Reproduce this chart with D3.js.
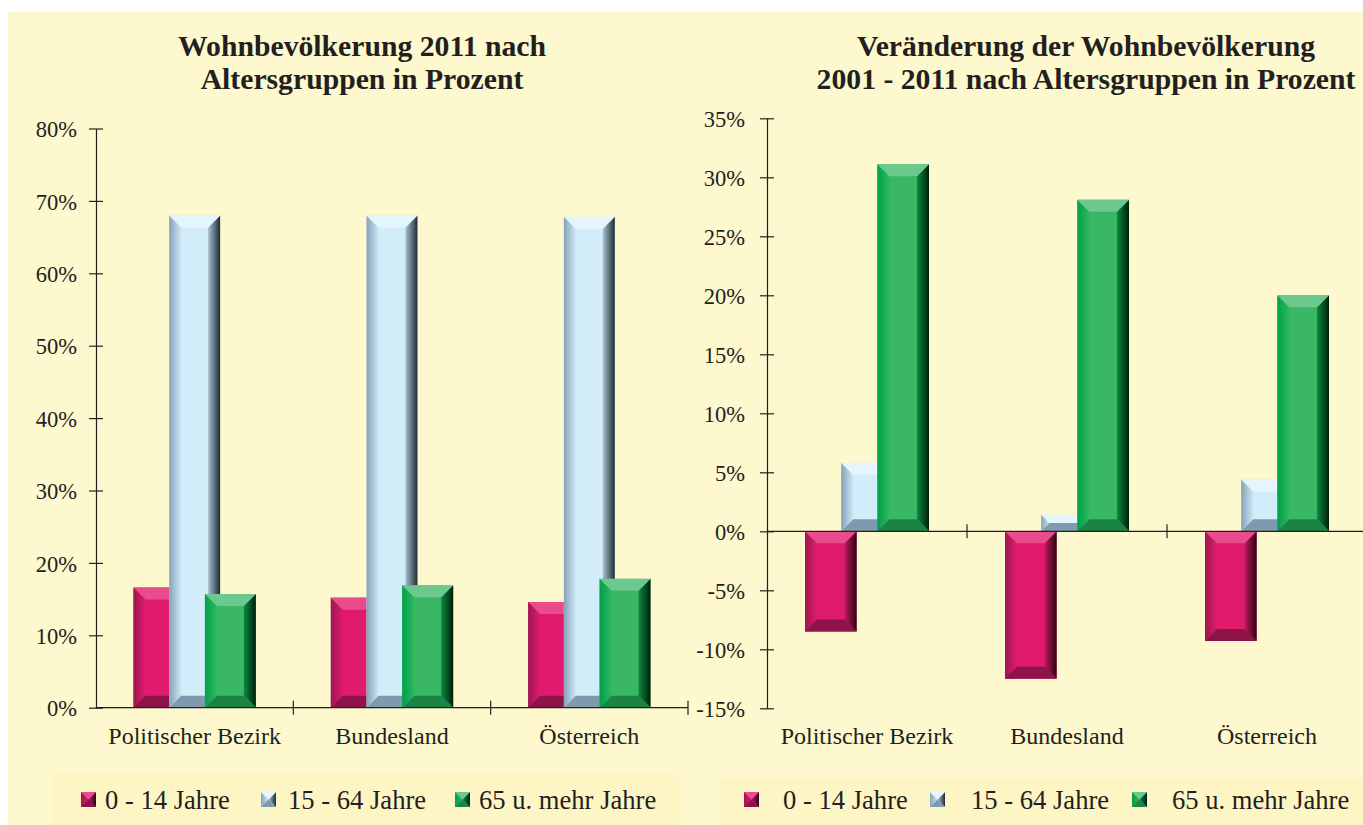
<!DOCTYPE html>
<html><head><meta charset="utf-8">
<script src="https://cdn.jsdelivr.net/npm/d3@7"></script>
<style>
html,body{margin:0;padding:0;background:#fff;}
svg{display:block;}
text{font-family:"Liberation Serif","Times New Roman",serif;fill:#231F20;}
</style></head><body>
<svg id="chart" width="1363" height="825"></svg>
<script>
// ---- data ----
const categories = ["Politischer Bezirk", "Bundesland", "Österreich"];
const seriesNames = ["0 - 14 Jahre", "15 - 64 Jahre", "65 u. mehr Jahre"];
// Wohnbevölkerung 2011 nach Altersgruppen (%)
const share0_14  = [16.6, 15.2, 14.6];
const share15_64 = [68.0, 68.0, 67.8];
const share65    = [15.7, 16.9, 17.8];
// Veränderung 2001-2011 (%)
const change0_14  = [-8.5, -12.5, -9.3];
const change15_64 = [5.8, 1.4, 4.4];
const change65    = [31.1, 28.1, 20.0];
const leftTicks  = [0, 10, 20, 30, 40, 50, 60, 70, 80];
const rightTicks = [-15, -10, -5, 0, 5, 10, 15, 20, 25, 30, 35];
const titleLeft  = ["Wohnbevölkerung 2011 nach", "Altersgruppen in Prozent"];
const titleRight = ["Veränderung der Wohnbevölkerung", "2001 - 2011 nach Altersgruppen in Prozent"];

// ---- styles ----
const palettes = [
  {base:"#E01B6E", top:"#EA4B8C", bottom:"#8E1447", l0:"#9C1650", l1:"#E01B6E", r0:"#C0185E", r1:"#2A0614"},
  {base:"#D3ECFA", top:"#E4F5FD", bottom:"#7F9AAE", l0:"#86A3B7", l1:"#CDE7F6", r0:"#A8C2D2", r1:"#1F2A32"},
  {base:"#3AB764", top:"#6CC98D", bottom:"#1B8445", l0:"#00A04A", l1:"#2EB85E", r0:"#0C8A3E", r1:"#00200D"}
];
const svg = d3.select("#chart");
const defs = svg.append("defs");
palettes.forEach((p,i)=>{
  const gl = defs.append("linearGradient").attr("id","gl"+i).attr("x1","0").attr("x2","1").attr("y1","0").attr("y2","0");
  gl.append("stop").attr("offset","0").attr("stop-color",p.l0);
  gl.append("stop").attr("offset","1").attr("stop-color",p.l1);
  const gr = defs.append("linearGradient").attr("id","gr"+i).attr("x1","0").attr("x2","1").attr("y1","0").attr("y2","0");
  gr.append("stop").attr("offset","0").attr("stop-color",p.r0);
  gr.append("stop").attr("offset","1").attr("stop-color",p.r1);
});

svg.append("rect").attr("x",8).attr("y",12).attr("width",1363-8).attr("height",825-12).attr("fill","#FDF8CE");
svg.append("rect").attr("x",51).attr("y",774).attr("width",628).attr("height",60).attr("fill","#FDF5C4");
svg.append("rect").attr("x",720).attr("y",778).attr("width",650).attr("height",60).attr("fill","#FDF5C4");

function bevel(g, x, y, w, h, si, bmax){
  const p = palettes[si];
  const b = Math.min(bmax, h/2, w/2);
  const gg = g.append("g");
  gg.append("rect").attr("x",x).attr("y",y).attr("width",w).attr("height",h).attr("fill",p.base);
  const poly = (pts, fill) => gg.append("polygon").attr("points", pts.map(q=>q.join(",")).join(" ")).attr("fill",fill);
  poly([[x,y],[x+b,y+b],[x+b,y+h-b],[x,y+h]], `url(#gl${si})`);
  poly([[x+w,y],[x+w-b,y+b],[x+w-b,y+h-b],[x+w,y+h]], `url(#gr${si})`);
  poly([[x,y],[x+w,y],[x+w-b,y+b],[x+b,y+b]], p.top);
  poly([[x,y+h],[x+w,y+h],[x+w-b,y+h-b],[x+b,y+h-b]], p.bottom);
}

function drawChart(opt){
  const g = svg.append("g");
  const x0 = d3.scaleBand().domain(categories).range([opt.x0, opt.x1]).padding(0);
  const y = d3.scaleLinear().domain(opt.domain).range([opt.yBottom, opt.yTop]);
  const bw = x0.bandwidth();
  const barW = bw*0.258;
  const xOff = d3.scalePoint().domain(seriesNames).range([-bw*0.181, bw*0.181]);
  const data = opt.values;
  // bars
  seriesNames.forEach((s,si)=>{
    categories.forEach((c,ci)=>{
      const v = data[si][ci];
      const cx = x0(c) + bw/2 + xOff(s);
      const yt = y(Math.max(0,v)), yb = y(Math.min(0,v));
      bevel(g, cx - barW/2, yt, barW, yb-yt, si, 12);
    });
  });
  // y axis
  const ya = g.append("g").attr("transform",`translate(${opt.x0},0)`)
    .call(d3.axisLeft(y).tickValues(opt.ticks).tickFormat(d=>d+"%").tickSizeOuter(0).tickSizeInner(7).tickPadding(0));
  ya.select(".domain").attr("stroke","#231F20").attr("stroke-width",1.2);
  ya.selectAll(".tick line").attr("x1",7).attr("x2",-7).attr("stroke","#231F20").attr("stroke-width",1.2);
  ya.selectAll(".tick text").attr("x",opt.labelX - opt.x0).attr("font-size",22.5).attr("font-family","Liberation Serif").attr("fill","#231F20").attr("dy","0.36em");
  // x axis line at 0
  const xa = g.append("g").attr("transform",`translate(0,${y(0)})`);
  xa.append("line").attr("x1",opt.x0).attr("x2",opt.x1).attr("stroke","#231F20").attr("stroke-width",1.2);
  xa.selectAll("line.ct").data(categories).join("line").attr("class","ct")
    .attr("x1",d=>x0(d)+bw).attr("x2",d=>x0(d)+bw).attr("y1",-7).attr("y2",7)
    .attr("stroke","#231F20").attr("stroke-width",1.2);
  // category labels
  g.selectAll("text.cat").data(categories).join("text").attr("class","cat")
    .attr("x",d=>x0(d)+bw/2).attr("y",744).attr("text-anchor","middle").attr("font-size",24).text(d=>d);
  // title
  g.selectAll("text.title").data(opt.title).join("text").attr("class","title")
    .attr("x",opt.titleX).attr("y",(d,i)=>opt.titleY[i]).attr("text-anchor","middle")
    .attr("font-size",29.7).attr("font-weight","bold").text(d=>d);
  // legend
  const lg = g.append("g");
  seriesNames.forEach((s,si)=>{
    bevel(lg, opt.legMark[si], 792, 15, 15, si, 7.5);
    lg.append("text").attr("x",opt.legText[si]).attr("y",809).attr("font-size",26.6).text(s);
  });
}

drawChart({x0:96, x1:688, yTop:128.5, yBottom:707.7, domain:[0,80], ticks:leftTicks, labelX:77,
  values:[share0_14, share15_64, share65], title:titleLeft, titleX:362, titleY:[56,89],
  legMark:[81,261,455], legText:[105,288,479]});
drawChart({x0:767, x1:1367, yTop:118.3, yBottom:708.3, domain:[-15,35], ticks:rightTicks, labelX:745,
  values:[change0_14, change15_64, change65], title:titleRight, titleX:1086, titleY:[56,89],
  legMark:[744,930,1132], legText:[783,971,1172]});
</script>
</body></html>
